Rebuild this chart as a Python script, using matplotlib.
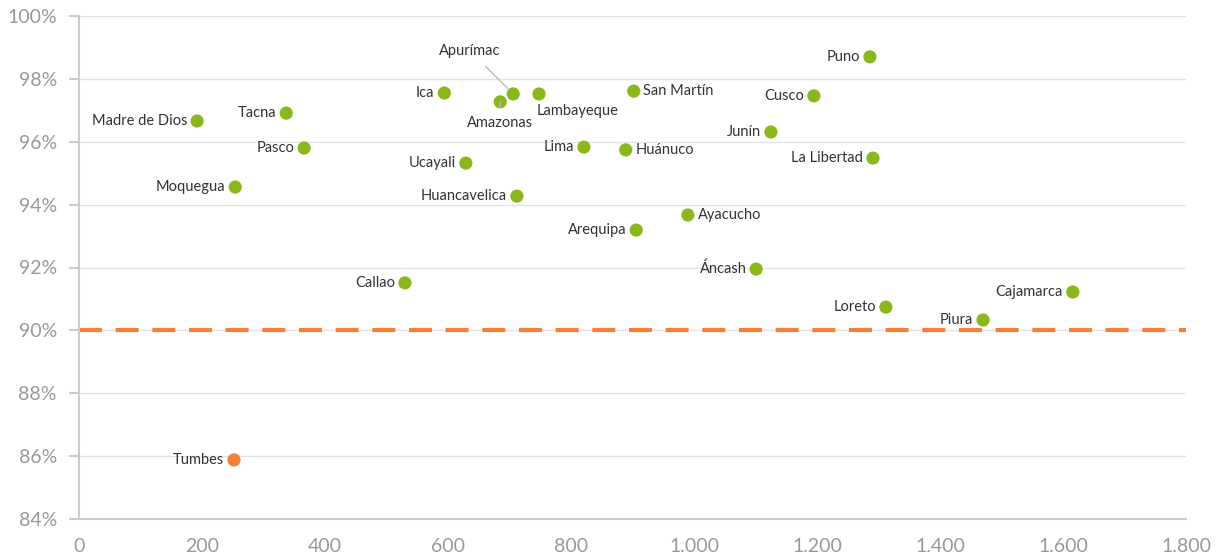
import numpy as np
import matplotlib.pyplot as plt
from matplotlib.ticker import FuncFormatter

# datos por región
regiones = ['Madre de Dios', 'Tacna', 'Pasco', 'Moquegua', 'Tumbes', 'Callao', 'Ica',
            'Amazonas', 'Apurímac', 'Lambayeque', 'Ucayali', 'Huancavelica', 'Lima',
            'Huánuco', 'San Martín', 'Arequipa', 'Ayacucho', 'Áncash', 'Cusco', 'Junín',
            'Puno', 'La Libertad', 'Loreto', 'Piura', 'Cajamarca']
x_vals = [192, 337, 366, 254, 252, 530, 594,
          685, 706, 748, 629, 712, 821,
          889, 902, 906, 990, 1101, 1195, 1125,
          1286, 1291, 1312, 1470, 1616]
y_vals = [96.66, 96.91, 95.80, 94.56, 85.88, 91.51, 97.55,
          97.27, 97.52, 97.52, 95.32, 94.27, 95.83,
          95.74, 97.61, 93.19, 93.67, 91.95, 97.46, 96.31,
          98.70, 95.48, 90.74, 90.33, 91.22]
meta = 90

verde = '#8ab81b'
naranja = '#f47f3a'

plt.rcParams['font.family'] = ['Lato', 'DejaVu Sans']

fig = plt.figure(figsize=(12.24, 5.6), dpi=100)
ax = fig.add_axes([79 / 1224, 1 - 519 / 560, 1107 / 1224, 503 / 560])

colores = [naranja if y < meta else verde for y in y_vals]
ax.scatter(x_vals, y_vals, s=90, c=colores, zorder=3, linewidths=0)

ax.axhline(meta, color=naranja, lw=3, dashes=(5.5, 3.3), zorder=2)

# posición de etiquetas
derecha = {'San Martín', 'Huánuco', 'Ayacucho'}
for nom, x, y in zip(regiones, x_vals, y_vals):
    if nom == 'Lambayeque':
        ax.annotate(nom, (x, y), xytext=(-2, -12), textcoords='offset points',
                    ha='left', va='center', fontsize=10.5, color='#333333')
    elif nom == 'Amazonas':
        ax.annotate(nom, (x, y), xytext=(0, -15), textcoords='offset points',
                    ha='center', va='center', fontsize=10.5, color='#333333',
                    arrowprops=dict(arrowstyle='-', color='#bbbbbb', lw=1,
                                    shrinkA=4, shrinkB=5))
    elif nom == 'Apurímac':
        ax.annotate(nom, (x, y), xytext=(-31, 31), textcoords='offset points',
                    ha='center', va='center', fontsize=10.5, color='#333333',
                    arrowprops=dict(arrowstyle='-', color='#bbbbbb', lw=1,
                                    shrinkA=6, shrinkB=5))
    elif nom in derecha:
        ax.annotate(nom, (x, y), xytext=(7, 0), textcoords='offset points',
                    ha='left', va='center', fontsize=10.5, color='#333333')
    else:
        ax.annotate(nom, (x, y), xytext=(-7, 0), textcoords='offset points',
                    ha='right', va='center', fontsize=10.5, color='#333333')

ax.set_xlim(0, 1800)
ax.set_ylim(84, 100)
ax.set_xticks(np.arange(0, 1801, 200))
ax.set_yticks(np.arange(84, 101, 2))
ax.xaxis.set_major_formatter(FuncFormatter(lambda v, p: f'{int(v):,}'.replace(',', '.')))
ax.yaxis.set_major_formatter(FuncFormatter(lambda v, p: f'{int(v)}%'))

ax.grid(axis='y', color='#e3e3e3', lw=1)
ax.set_axisbelow(True)
for s in ['top', 'right']:
    ax.spines[s].set_visible(False)
for s in ['left', 'bottom']:
    ax.spines[s].set_color('#cccccc')
    ax.spines[s].set_linewidth(1.5)
ax.tick_params(axis='y', length=7, width=1.5, color='#cccccc', labelsize=14,
               labelcolor='#999999', pad=9)
ax.tick_params(axis='x', length=0, labelsize=14, labelcolor='#999999', pad=14)

fig.savefig('out.png', dpi=100)
